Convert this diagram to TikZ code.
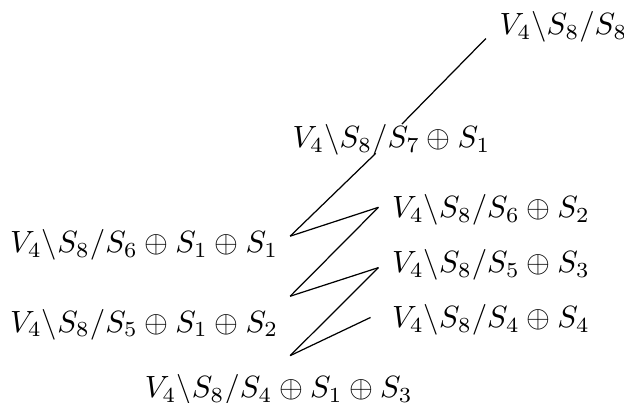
\documentclass[tikz,border=0pt]{standalone}
\usepackage{amsmath,amssymb}
\usepackage{tikz}

\tikzset{lbl/.style={inner sep=0pt, anchor=base west}}

\begin{document}
\begin{tikzpicture}
        \useasboundingbox (0,0) rectangle (7.14,4.61);
        % Top of the chain
        \node[lbl] (s8) at (5.71,4.21) {$V_4\backslash S_8/S_8$};
        \node[lbl] (s7s1) at (3.34,2.92) {$V_4\backslash S_8/S_7 \oplus S_1$};
        
        % Right column
        \node[lbl] (s6s2) at (4.48,2.12) {$V_4\backslash S_8/S_6 \oplus S_2$};
        \node[lbl] (s5s3) at (4.48,1.49) {$V_4\backslash S_8/S_5 \oplus S_3$};
        \node[lbl] (s4s4) at (4.48,0.86) {$V_4\backslash S_8/S_4 \oplus S_4$};
        
        % Left column
        \node[lbl] (s6s1s1) at (0.11,1.72) {$V_4\backslash S_8/S_6 \oplus S_1 \oplus S_1$};
        \node[lbl] (s5s1s2) at (0.11,0.81) {$V_4\backslash S_8/S_5 \oplus S_1 \oplus S_2$};
        \node[lbl] (s4s1s3) at (1.65,0.06) {$V_4\backslash S_8/S_4 \oplus S_1 \oplus S_3$};
        
        % Connecting lines
        \draw ([xshift=-1.5mm,yshift=-0.4mm]s8.base west) -- ([xshift=1.2mm]s7s1.north);
        \draw ([xshift=-1.8mm,yshift=0.3mm]s7s1.south) -- ([xshift=1.3mm,yshift=1mm]s6s1s1.east);
        \draw ([xshift=1.3mm,yshift=1mm]s6s1s1.east) -- ([xshift=-1.5mm,yshift=0.3mm]s6s2.west);
        \draw ([xshift=-1.5mm,yshift=0.3mm]s6s2.west) -- ([xshift=1.3mm,yshift=1.4mm]s5s1s2.north east);
        \draw ([xshift=1.3mm,yshift=1.4mm]s5s1s2.north east) -- ([xshift=-1.5mm,yshift=-0.3mm]s5s3.west);
        \draw ([xshift=-1.5mm,yshift=-0.3mm]s5s3.west) -- ([xshift=1.3mm,yshift=2.1mm]s4s1s3.north);
        \draw ([xshift=1.3mm,yshift=2.1mm]s4s1s3.north) -- ([xshift=-2.4mm,yshift=0.3mm]s4s4.west);
    \end{tikzpicture}
\end{document}
